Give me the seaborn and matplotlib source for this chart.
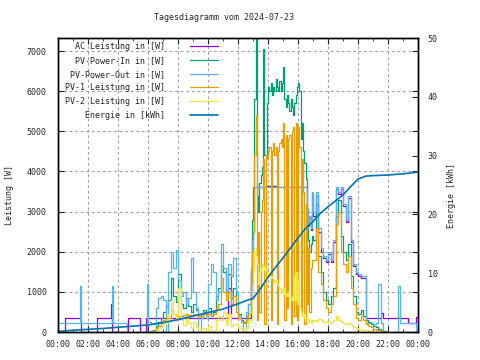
import matplotlib
matplotlib.use("Agg")
import numpy as np
import pandas as pd
import matplotlib.pyplot as plt
import seaborn as sns

"""Data read from the reference chart (Watt / kWh)"""

# logger grid for the daylight part of the day
seg_a = pd.date_range("2024-07-23 06:00", "2024-07-23 12:40", freq="10min")
seg_b = pd.date_range("2024-07-23 12:50", "2024-07-23 16:55", freq="5min")
seg_c = pd.date_range("2024-07-23 17:00", "2024-07-23 22:00", freq="10min")

pv_in_a = [0, 20, 60, 150, 250, 350,
           500, 650, 800, 1350, 900, 750,
           1450, 700, 600, 850, 650, 500,
           700, 550, 450, 350, 550, 450,
           600, 400, 500, 900, 1100, 1650,
           1500, 1000, 1450, 850, 1100, 700,
           450, 300, 250, 400, 700]
pv_in_b = [1500, 2800, 3600, 5800, 7320, 3400,
           3000, 3700, 3900, 4100, 7050, 4400,
           4300, 5700, 6100, 6000, 6200, 5900,
           6100, 6000, 6300, 6100, 6000, 6250,
           6000, 6200, 6600, 5800, 5600, 5900,
           5700, 5500, 5800, 5600, 5400, 5700,
           5900, 6100, 6200, 6000, 4800, 5200,
           4500, 4200, 3800, 2600, 2300, 2000,
           2200, 2400]
pv_in_c = [2300, 3200, 1900, 1500, 1000, 800,
           700, 900, 1100, 2900, 3300, 2400,
           2000, 1800, 2200, 1400, 900, 500,
           450, 550, 400, 300, 250, 200,
           150, 120, 80, 50, 30, 0,
           0]

pv1_a = [0, 10, 30, 90, 150, 220,
         300, 350, 350, 550, 450, 400,
         400, 400, 420, 450, 420, 400,
         450, 420, 400, 380, 450, 420,
         450, 400, 450, 600, 700, 1350,
         1000, 800, 1000, 700, 900, 500,
         350, 250, 220, 300, 450]
pv1_b = [1200, 2000, 2500, 4400, 5400, 300,
         2500, 500, 3000, 3300, 4300, 200,
         4400, 4300, 4500, 4600, 300, 4500,
         4700, 4400, 4600, 200, 4500, 4700,
         4800, 4600, 5200, 300, 4900, 600,
         4800, 4900, 200, 5000, 5100, 400,
         5200, 300, 5100, 4600, 500, 4300,
         3500, 200, 3200, 700, 2100, 500,
         1600, 1800]
pv1_c = [1800, 2600, 1500, 1200, 800, 600,
         500, 700, 900, 2700, 3000, 2000,
         1700, 1500, 1900, 1100, 700, 350,
         300, 400, 300, 200, 150, 120,
         80, 60, 40, 20, 10, 0,
         0]

pv2_a = [0, 10, 30, 60, 100, 130,
         200, 300, 450, 800, 450, 350,
         1100, 300, 180, 400, 230, 100,
         250, 130, 50, 0, 100, 30,
         150, 0, 50, 300, 400, 300,
         500, 200, 450, 150, 200, 200,
         100, 50, 30, 100, 250]
pv2_b = [300, 800, 1500, 2100, 1900, 1700,
         1200, 1500, 1600, 1700, 1650, 1550,
         1600, 1500, 1450, 1400, 1350, 1400,
         1300, 1250, 1300, 1200, 1150, 1100,
         1050, 1000, 1100, 950, 900, 1000,
         900, 850, 800, 900, 1400, 800,
         1500, 700, 1300, 600, 500, 400,
         450, 350, 300, 350, 300, 250,
         300, 250]
pv2_c = [300, 280, 320, 300, 250, 280,
         250, 220, 300, 400, 300, 250,
         220, 200, 220, 180, 120, 100,
         80, 60, 50, 40, 30, 20,
         10, 5, 0, 0, 0, 0,
         0]

out_early_t = ["00:00", "01:28", "01:32", "03:34", "03:38", "04:36", "05:54"]
out_early_w = [220, 1150, 220, 1150, 220, 0, 1200]
out_a = [250, 200, 200, 600, 850, 900,
         800, 0, 1500, 2000, 1600, 2050,
         1300, 900, 1000, 700, 850, 1850,
         1000, 600, 0, 350, 500, 350,
         1200, 1700, 1500, 800, 1000, 2200,
         1600, 900, 1700, 1400, 1850, 1000,
         400, 250, 0, 500, 700]
out_b = [1600, 2300, 2500, 3600, 3600, 3600,
         3600, 3600, 3600, 3600, 3600, 3600,
         3600, 3600, 3600, 3600, 3600, 3600,
         3600, 3600, 3600, 3600, 3600, 3600,
         3600, 3600, 3600, 3600, 3600, 3600,
         3600, 3600, 3600, 3600, 3600, 3600,
         3600, 3600, 3600, 3600, 3600, 3600,
         3600, 3600, 3600, 3100, 2700, 2900,
         2600, 3500]
out_c = [3000, 3500, 2600, 2100, 1900, 1800,
         2000, 1800, 2300, 3600, 3500, 3600,
         3200, 2800, 3400, 2300, 1700, 1500,
         1450, 1400, 1400, 220, 220, 220,
         200, 220, 1200, 220, 0, 0,
         0]
out_late_t = ["22:40", "22:46", "23:50", "24:00"]
out_late_w = [1150, 220, 0, 0]

ac_early_t = ["00:00", "00:28", "01:30", "02:36", "03:30", "03:34", "04:40", "05:28", "05:52"]
ac_early_w = [0, 350, 0, 350, 700, 0, 350, 0, 350]
ac_a = [350, 350, 350, 350, 350, 350,
        350, 350, 350, 350, 350, 350,
        350, 350, 350, 350, 350, 350,
        350, 350, 350, 350, 350, 350,
        350, 350, 350, 350, 350, 350,
        350, 350, 1100, 350, 350, 350,
        350, 350, 350, 350, 350]
ac_b = [1500, 2300, 2500, 3600, 3600, 3600,
        3600, 3600, 3600, 3600, 3600, 3600,
        3600, 3640, 3640, 3640, 3640, 3640,
        3640, 3640, 3640, 3640, 3600, 3600,
        3600, 3600, 3600, 3600, 3600, 3600,
        3600, 3600, 3600, 3600, 3600, 3600,
        3600, 3600, 3600, 3600, 3600, 3600,
        3600, 3600, 3600, 3050, 2650, 2850,
        2550, 3450]
ac_c = [2900, 3400, 2500, 2000, 1850, 1750,
        1950, 1750, 2250, 3550, 3450, 3550,
        3150, 2750, 3350, 2250, 1650, 1450,
        1400, 1350, 1350, 350, 350, 350,
        350, 350, 350, 470, 350, 350,
        350]
ac_late_t = ["23:20", "23:50", "24:00"]
ac_late_w = [220, 370, 370]

energy_t = ["00:00", "01:00", "02:00", "03:00", "04:00", "05:00", "06:00", "07:00",
            "08:00", "09:00", "10:00", "11:00", "12:00", "12:30", "13:00", "13:30",
            "14:00", "14:30", "15:00", "15:30", "16:00", "16:30", "17:00", "17:30",
            "18:00", "18:30", "19:00", "19:30", "20:00", "20:30", "21:00", "22:00",
            "23:00", "24:00"]
energy_kwh = [0.1, 0.3, 0.45, 0.6, 0.8, 1.0, 1.2, 1.6,
              2.1, 2.7, 3.3, 3.9, 4.8, 5.3, 5.7, 7.4,
              9.3, 11.0, 12.6, 14.3, 16.0, 17.6, 18.8, 20.2,
              21.3, 22.3, 23.3, 24.7, 26.0, 26.5, 26.6, 26.7,
              26.9, 27.2]


def hours(ts):
    return [int(t[:2]) + int(t[3:]) / 60 for t in ts]


day_h = [d.hour + d.minute / 60 for d in list(seg_a) + list(seg_b) + list(seg_c)]

pv_in = pv_in_a + pv_in_b + pv_in_c
pv1 = pv1_a + pv1_b + pv1_c
pv2 = pv2_a + pv2_b + pv2_c
out_h = hours(out_early_t) + day_h + hours(out_late_t)
out_w = out_early_w + out_a + out_b + out_c + out_late_w
ac_h = hours(ac_early_t) + day_h + hours(ac_late_t)
ac_w = ac_early_w + ac_a + ac_b + ac_c + ac_late_w

"""Plot"""

sns.set_style("ticks")
plt.rcParams["font.family"] = ["DejaVu Sans Mono"]
plt.rcParams["font.size"] = 6

fig, ax = plt.subplots(figsize=(4.8, 3.6), dpi=100)
fig.subplots_adjust(left=58 / 480, right=418 / 480, bottom=1 - 332 / 360, top=1 - 38 / 360)

series = [
    (ac_h, ac_w, "#9400d3", "AC Leistung in [W]"),
    (day_h, pv_in, "#009e73", "PV-Power-In in [W]"),
    (out_h, out_w, "#56b4e9", "PV-Power-Out in [W]"),
    (day_h, pv1, "#e69f00", "PV-1 Leistung in [W]"),
    (day_h, pv2, "#f0e442", "PV-2 Leistung in [W]"),
]

handles = []
labels = []
for xs, ys, col, lab in series:
    sns.lineplot(x=xs, y=ys, ax=ax, color=col, linewidth=0.9,
                 drawstyle="steps-post", estimator=None, sort=False)
    handles.append(ax.lines[-1])
    labels.append(lab.rjust(20))

ax2 = ax.twinx()
sns.lineplot(x=hours(energy_t), y=energy_kwh, ax=ax2, color="#0072b2",
             linewidth=1.2, estimator=None, sort=False)
handles.append(ax2.lines[-1])
labels.append("Energie in [kWh]".rjust(20))

ax.set_xlim(0, 24)
ax.set_ylim(0, 7324)
ax2.set_ylim(0, 50)

ax.set_xticks(range(0, 25, 2))
ax.set_xticklabels([f"{h % 24:02d}:00" for h in range(0, 25, 2)])
ax.set_xticks(range(1, 24, 2), minor=True)
ax.set_yticks(range(0, 8000, 1000))
ax2.set_yticks(range(0, 51, 10))

ax.tick_params(axis="x", which="major", direction="in", top=True, length=4, pad=5.5, labelsize=6)
ax.tick_params(axis="x", which="minor", direction="in", top=True, length=2)
ax.tick_params(axis="y", which="major", direction="in", right=True, length=4, pad=8, labelsize=6)
ax2.tick_params(axis="y", direction="in", length=4, pad=7, labelsize=6)

ax.set_xlabel("")
ax.set_ylabel("")
ax2.set_ylabel("")

ax.grid(True, which="major", color="#a0a0a0", linestyle=(0, (2.5, 2.5)), linewidth=0.8)
ax.set_axisbelow(True)
for a in (ax, ax2):
    for s in a.spines.values():
        s.set_linewidth(1.0)
        s.set_color("black")

ax.legend(handles, labels, loc="upper right", bbox_to_anchor=(0.444, 0.985),
          frameon=False, markerfirst=False, handlelength=3.4, handletextpad=3.0,
          labelspacing=0.56, borderpad=0, borderaxespad=0, fontsize=6)

fig.text(223.5 / 480, 1 - 18 / 360, "Tagesdiagramm vom 2024-07-23", ha="center", va="center", fontsize=6)
fig.text(10 / 480, 1 - 195 / 360, "Leistung [W]", rotation=90, ha="center", va="center", fontsize=6)
fig.text(452 / 480, 1 - 195 / 360, "Energie [kWh]", rotation=90, ha="center", va="center", fontsize=6)

fig.savefig("out.png", dpi=100)
